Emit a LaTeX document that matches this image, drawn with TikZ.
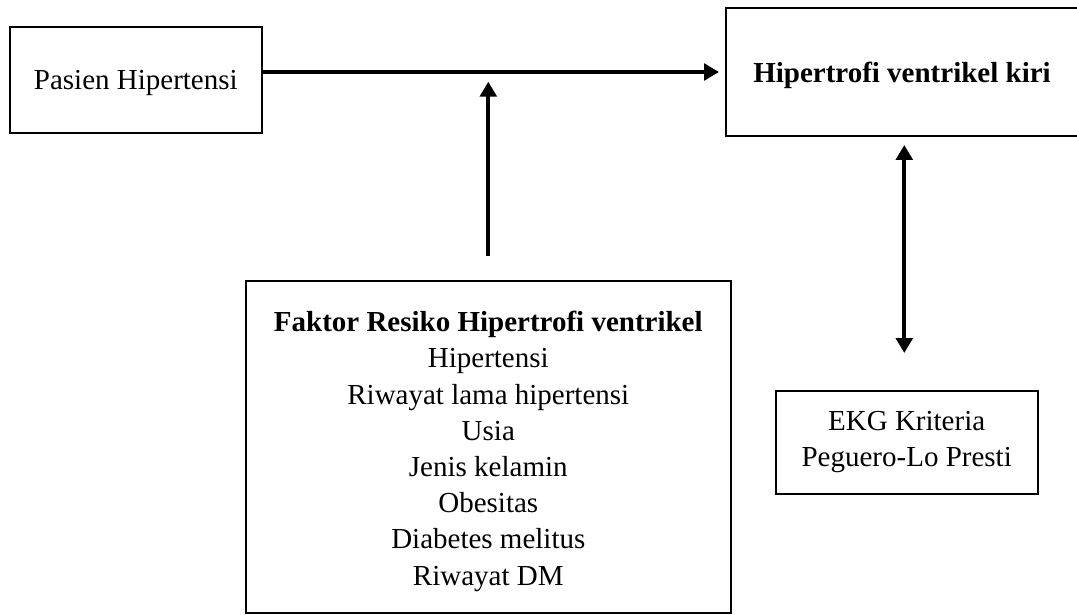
\documentclass[tikz,border=0pt]{standalone}
\usepackage{fontspec}
\setmainfont{Liberation Serif}
\usetikzlibrary{arrows.meta,calc}
\begin{document}
\begin{tikzpicture}[x=0.5pt,y=-0.5pt,
  box/.style={draw, line width=1pt, inner sep=0pt, font=\fontsize{14.5pt}{18.1pt}\selectfont},
  arr/.style={line width=2pt, -{Triangle[width=8.3pt,length=7.5pt]}},
  darr/.style={line width=2pt, {Triangle[width=8.3pt,length=7.5pt]}-{Triangle[width=8.3pt,length=7.5pt]}}]
\useasboundingbox (0,0) rectangle (1077,615);
\node[box, minimum width=126.2pt, minimum height=53pt, text depth=0pt] (p) at (135.8,80) {Pasien Hipertensi};
\node[box, minimum width=176pt, minimum height=64pt, text depth=0pt, font=\fontsize{14.5pt}{18.1pt}\selectfont\bfseries] (h) at (902,72) {Hipertrofi ventrikel kiri};
\node[box, minimum width=242.7pt, minimum height=166pt, align=center] (r) at (488.3,447) {\rule{0pt}{14.5pt}\textbf{Faktor Resiko Hipertrofi ventrikel}\\Hipertensi\\Riwayat lama hipertensi\\Usia\\Jenis kelamin\\Obesitas\\Diabetes melitus\\Riwayat DM};
\node[box, minimum width=131pt, minimum height=51.7pt, align=center] (e) at (906.7,442.3) {EKG Kriteria\\Peguero-Lo Presti};
\coordinate (hs) at ([yshift=4pt]p.east);
\draw[arr, shorten >=3pt] (hs) -- (hs -| h.west);
\draw[arr, shorten >=4.85pt] ([yshift=12pt]r.north) -- (r.north |- hs);
\draw[darr, shorten <=4pt, shorten >=18.3pt] ([xshift=1.15pt]h.south) -- ([xshift=1.15pt]h.south |- e.north);
\end{tikzpicture}
\end{document}
